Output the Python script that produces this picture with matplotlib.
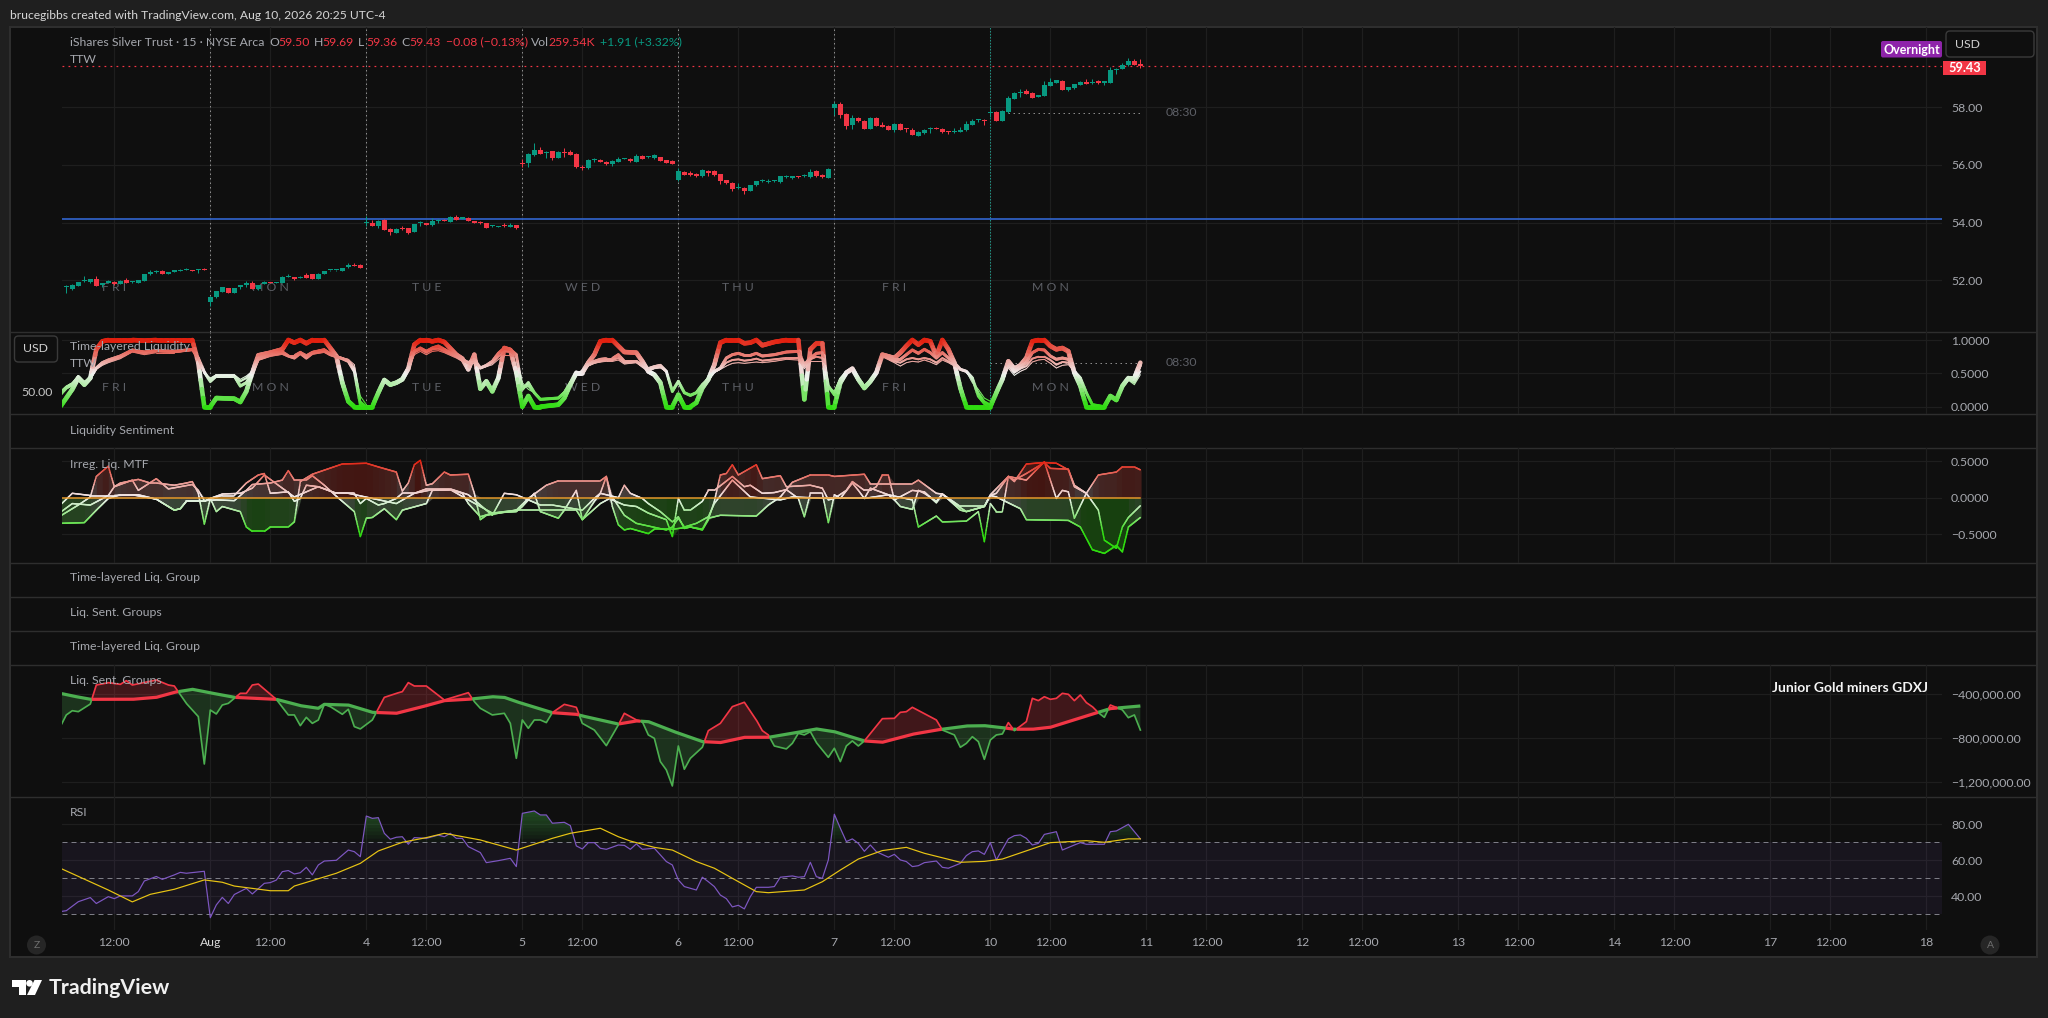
import numpy as np
import matplotlib
matplotlib.use("Agg")
import matplotlib.pyplot as plt
from matplotlib.collections import LineCollection
from matplotlib.colors import LinearSegmentedColormap, to_rgb
from matplotlib.patches import Rectangle, FancyBboxPatch, Circle, Polygon

# ---------- price data (15 min bars) ----------
opens = [51.76,51.70,51.80,51.96,51.94,52.03,51.82,51.90,51.94,51.88,52.00,51.93,51.92,51.99,52.21,52.30,52.33,52.23,52.29,52.33,52.37,52.36,52.36,52.39,
51.23,51.41,51.60,51.73,51.57,51.76,51.83,51.90,51.71,51.87,51.94,51.92,51.92,52.12,52.11,52.08,52.20,52.21,52.06,52.23,52.34,52.35,52.33,52.45,52.52,52.53,
53.98,54.00,53.89,54.09,53.78,53.65,53.80,53.80,53.67,53.97,53.98,53.92,54.06,54.10,54.03,54.19,54.14,54.17,54.05,53.99,53.98,53.87,53.86,53.89,53.86,53.91,
56.06,56.07,56.33,56.52,56.43,56.48,56.24,56.44,56.46,56.38,55.92,55.90,56.17,56.17,56.12,56.05,56.11,56.22,56.22,56.12,56.31,56.26,56.24,56.27,56.16,56.13,
55.47,55.76,55.72,55.68,55.60,55.80,55.80,55.67,55.48,55.39,55.20,55.21,55.11,55.29,55.44,55.42,55.44,55.40,55.58,55.55,55.59,55.60,55.57,55.80,55.64,55.56,
57.99,58.11,57.77,57.40,57.62,57.53,57.26,57.63,57.39,57.36,57.21,57.43,57.25,57.22,57.02,57.10,57.26,57.27,57.25,57.15,57.13,57.16,57.20,57.40,57.55,57.56,
57.79,57.83,57.54,57.84,58.30,58.48,58.56,58.51,58.37,58.40,58.75,58.85,58.91,58.60,58.67,58.78,58.89,58.83,58.88,58.86,58.85,59.28,59.33,59.45,59.60,59.50]
closes = [51.77,51.84,51.94,51.97,52.03,51.81,51.90,51.98,51.87,51.98,51.91,51.95,52.00,52.22,52.28,52.31,52.23,52.29,52.34,52.36,52.38,52.33,52.38,52.37,
51.43,51.63,51.76,51.57,51.73,51.83,51.91,51.71,51.84,51.95,51.90,51.93,52.12,52.13,52.05,52.12,52.09,52.06,52.23,52.32,52.35,52.35,52.43,52.53,52.50,52.44,
53.99,53.89,54.06,53.75,53.66,53.78,53.77,53.64,53.94,53.98,53.92,54.06,54.10,54.07,54.20,54.10,54.19,54.05,53.98,53.97,53.83,53.87,53.87,53.87,53.92,53.81,
56.04,56.38,56.52,56.39,56.46,56.24,56.45,56.43,56.35,55.94,55.91,56.17,56.18,56.10,56.05,56.14,56.21,56.23,56.13,56.30,56.20,56.30,56.33,56.15,56.07,56.05,
55.80,55.66,55.65,55.60,55.84,55.71,55.64,55.46,55.36,55.18,55.22,55.09,55.29,55.43,55.46,55.43,55.45,55.61,55.60,55.60,55.57,55.62,55.76,55.60,55.59,55.87,
58.11,57.74,57.36,57.63,57.51,57.25,57.63,57.36,57.32,57.22,57.43,57.22,57.23,57.05,57.15,57.22,57.27,57.26,57.13,57.13,57.18,57.22,57.43,57.53,57.56,57.51,
57.84,57.54,57.87,58.31,58.51,58.54,58.47,58.33,58.43,58.77,58.89,58.94,58.60,58.70,58.80,58.89,58.82,58.84,58.86,58.87,59.29,59.30,59.46,59.60,59.46,59.43]
highs = [51.85,51.87,51.95,52.15,52.05,52.15,51.92,52.00,51.96,52.00,52.07,51.96,52.02,52.23,52.34,52.36,52.35,52.30,52.36,52.38,52.41,52.37,52.40,52.42,
51.44,51.64,51.78,51.74,51.74,51.85,51.96,51.96,51.85,51.97,51.95,51.95,52.15,52.22,52.13,52.14,52.24,52.22,52.24,52.33,52.37,52.36,52.44,52.61,52.59,52.55,
54.23,54.08,54.09,54.11,53.80,53.80,53.88,53.82,53.95,54.05,53.99,54.15,54.12,54.11,54.23,54.25,54.20,54.20,54.06,54.04,53.99,53.92,53.89,53.97,53.97,53.93,
56.20,56.40,56.75,56.62,56.50,56.50,56.50,56.58,56.52,56.40,56.01,56.19,56.24,56.19,56.13,56.16,56.27,56.25,56.24,56.37,56.33,56.32,56.37,56.29,56.18,56.16,
55.90,55.78,55.80,55.72,55.85,55.82,55.81,55.68,55.49,55.40,55.38,55.22,55.30,55.44,55.50,55.53,55.47,55.62,55.66,55.62,55.61,55.68,55.86,55.81,55.69,55.91,
58.18,58.18,57.80,57.74,57.66,57.55,57.65,57.65,57.48,57.38,57.46,57.46,57.27,57.28,57.17,57.25,57.33,57.32,57.27,57.18,57.27,57.31,57.52,57.59,57.60,57.58,
58.00,57.86,57.89,58.39,58.53,58.62,58.62,58.53,58.44,58.91,59.00,58.96,58.93,58.72,58.81,58.90,58.98,58.97,58.94,58.89,59.40,59.37,59.52,59.72,59.67,59.69]
lows = [51.55,51.68,51.79,51.94,51.90,51.80,51.76,51.89,51.82,51.87,51.90,51.92,51.91,51.98,52.20,52.26,52.22,52.22,52.28,52.31,52.35,52.32,52.26,52.36,
51.11,51.40,51.59,51.56,51.56,51.70,51.76,51.70,51.68,51.86,51.89,51.91,51.91,52.10,52.01,52.07,52.08,52.05,52.05,52.22,52.33,52.33,52.32,52.44,52.49,52.43,
53.88,53.87,53.83,53.74,53.57,53.64,53.75,53.60,53.66,53.90,53.91,53.90,53.98,54.05,54.02,54.09,54.13,54.04,53.97,53.95,53.82,53.84,53.85,53.85,53.85,53.78,
55.92,55.94,56.32,56.38,56.25,56.17,56.23,56.27,56.34,55.89,55.83,55.87,56.10,56.09,56.00,55.96,56.10,56.20,56.12,56.11,56.19,56.25,56.22,56.14,56.06,56.04,
55.45,55.64,55.63,55.58,55.59,55.61,55.63,55.33,55.35,55.11,55.18,55.01,55.10,55.28,55.42,55.38,55.42,55.39,55.56,55.53,55.54,55.58,55.56,55.59,55.54,55.55,
57.74,57.63,57.26,57.26,57.50,57.24,57.25,57.35,57.30,57.20,57.16,57.20,57.13,57.03,57.00,57.08,57.10,57.24,57.12,57.08,57.11,57.14,57.18,57.38,57.50,57.39,
57.68,57.53,57.53,57.79,58.29,58.37,58.46,58.32,58.35,58.39,58.74,58.84,58.59,58.56,58.62,58.77,58.81,58.82,58.80,58.78,58.84,59.17,59.32,59.44,59.45,59.36]
last_price = 59.43
support_level = 54.14
session_level = 57.79
liq_level = 0.65

# ---------- Time-layered Liquidity ----------
liq_bars = [-1,0,1,2,3,4,5,6,7,9,11,13,15,18,20,21,22,23,24,25,28,29,30,31,32,34,36,37,38,39,40,41,43,44,45,46,47,48,49,50,51,52,53,54,55,56,57,58,59,60,61,62,63,65,66,67,68,69,70,71,72,73,74,75,76,77,78,79,82,83,84,85,86,87,88,89,90,91,92,93,95,96,97,98,99,100,101,102,103,104,105,106,107,108,109,110,111,112,113,114,115,116,118,120,122,123,124,125,126,127,128,129,130,131,132,133,134,135,136,138,139,140,141,142,143,144,145,146,147,148,149,150,151,152,153,154,155,156,157,158,159,160,161,162,163,164,165,166,167,168,169,170,171,173,174,175,176,177,178,179]
liq_a = [0,.13,.26,.43,.33,.43,.86,.98,1,1,1,.99,1,1,1,1,.66,0,0,.13,.12,.07,.23,.51,.77,.81,.86,1,.96,1,.95,1,1,.88,.76,.36,.08,0,0,0,0,.21,.40,.33,.36,.41,.57,.93,1,1,.98,1,.97,.78,.72,.56,.78,.27,.38,.23,.43,.88,.85,.51,0,.16,0,0,.03,.13,.33,.51,.51,.66,.78,.98,1,1,.91,.82,.81,.68,.53,.48,.36,0,0,.18,0,0,.06,.28,.41,.63,.96,1,1,1,.95,.96,1,.92,.97,1,1,.11,.86,.95,.95,0,0,.36,.51,.57,.41,.28,.38,.51,.78,.73,.81,.91,1,.93,1,.98,.76,1,.86,.66,.28,0,0,0,0,0,.21,.41,.68,.57,.62,.73,.98,1,1,.91,.86,.88,.83,.51,.31,0,0,0,.16,.10,.31,.43,.43,.66]
liq_b = [.18,.28,.33,.45,.36,.43,.58,.66,.70,.76,.85,.82,.84,.83,.85,.86,.73,.52,.38,.46,.46,.31,.36,.51,.71,.77,.80,.76,.73,.80,.73,.80,.83,.78,.75,.72,.68,.53,.03,0,0,.21,.40,.33,.36,.42,.57,.83,.88,.83,.88,.91,.86,.76,.71,.66,.71,.58,.62,.68,.80,.88,.86,.78,.26,.36,.21,.11,.13,.21,.36,.48,.53,.63,.68,.71,.72,.72,.78,.68,.68,.62,.57,.60,.62,.53,.23,.38,.21,.17,.21,.33,.41,.53,.58,.73,.78,.80,.77,.77,.80,.76,.78,.82,.83,.63,.73,.80,.81,.31,.18,.41,.51,.56,.42,.30,.38,.51,.77,.71,.71,.78,.85,.80,.86,.81,.73,.81,.73,.66,.56,.53,.43,.16,.05,0,.21,.41,.66,.53,.60,.66,.81,.86,.85,.76,.71,.73,.71,.53,.43,.21,.03,0,.16,.10,.31,.42,.41,.62]
liq_c = [.21,.30,.35,.46,.37,.42,.57,.64,.68,.74,.83,.80,.83,.82,.84,.85,.72,.51,.41,.47,.47,.38,.43,.53,.73,.79,.83,.76,.76,.82,.76,.82,.86,.80,.76,.73,.70,.58,.08,0,0,.21,.40,.33,.36,.43,.57,.81,.86,.81,.86,.87,.83,.75,.70,.66,.68,.58,.61,.66,.75,.83,.82,.76,.31,.31,.21,.11,.13,.22,.36,.48,.53,.62,.66,.68,.70,.70,.73,.66,.67,.61,.55,.58,.60,.53,.23,.38,.21,.17,.21,.33,.43,.52,.57,.66,.70,.71,.69,.70,.72,.69,.71,.73,.73,.60,.71,.75,.73,.31,.21,.42,.52,.56,.42,.30,.38,.51,.76,.68,.66,.71,.73,.71,.73,.71,.66,.73,.68,.63,.56,.53,.41,.21,.08,.03,.21,.41,.61,.51,.57,.61,.72,.75,.75,.70,.63,.67,.66,.53,.43,.21,.03,0,.16,.10,.31,.41,.36,.53]
liq_d = [.23,.31,.36,.46,.38,.41,.56,.62,.66,.72,.82,.78,.81,.81,.83,.84,.72,.50,.43,.48,.48,.41,.46,.53,.75,.81,.84,.78,.78,.83,.78,.83,.87,.81,.76,.73,.71,.63,.16,.03,.03,.21,.40,.33,.37,.44,.57,.78,.83,.78,.83,.84,.81,.73,.68,.66,.66,.57,.60,.63,.71,.78,.78,.73,.36,.26,.21,.11,.13,.23,.36,.48,.52,.61,.65,.67,.68,.68,.70,.64,.66,.59,.53,.57,.58,.53,.23,.37,.21,.17,.21,.33,.45,.51,.56,.61,.65,.66,.65,.66,.67,.66,.68,.71,.70,.57,.68,.68,.68,.31,.23,.43,.53,.56,.42,.30,.38,.51,.75,.66,.61,.66,.68,.67,.70,.67,.63,.70,.66,.61,.56,.53,.36,.26,.13,.08,.21,.41,.58,.47,.53,.57,.67,.70,.71,.65,.58,.62,.63,.53,.43,.21,.03,0,.16,.10,.31,.40,.33,.48]

# ---------- Irreg. Liq. MTF ----------
mtf1_bars = [-1,2,4,5,7,8,9,12,14,15,18,20,21,22,23,24,25,26,29,30,31,33,34,37,38,39,41,46,50,52,55,56,57,58,59,60,61,63,64,67,68,69,70,75,77,80,82,89,90,91,92,93,94,97,98,101,104,106,107,109,115,117,119,121,124,127,128,133,134,141,142,145,146,149,150,153,154,157,158,160,163,164,167,168,170,172,175,176,178,179]
mtf1_vals = [-.25,-.10,.01,.29,.43,.15,.20,.25,.20,.20,.17,.20,.22,.06,-.36,-.01,-.19,-.12,-.19,-.40,-.46,-.46,-.40,-.40,-.33,.22,.32,.46,.47,.42,.35,.09,.20,.45,.51,.17,.19,.35,.31,.32,.06,-.30,-.24,-.17,-.01,.17,.23,.23,.29,-.12,-.37,-.44,-.42,-.49,-.43,-.43,-.40,-.43,-.28,-.24,-.25,-.10,.01,.21,.31,.31,.29,.32,.19,.19,.24,.06,.05,-.17,-.19,-.12,.04,.29,.22,.46,.48,.40,.39,.17,.06,.31,.35,.42,.42,.38]
mtf2_bars = [-1,3,5,7,9,11,15,18,19,20,23,24,26,28,30,32,33,34,37,38,39,40,42,45,48,49,50,52,53,55,56,58,60,64,67,69,71,73,75,77,79,81,86,88,89,90,91,93,95,97,100,101,102,103,104,106,107,108,111,113,114,116,118,120,122,123,124,126,127,128,129,131,132,133,134,135,137,138,141,143,145,146,149,153,154,155,159,160,167,169,171,173,175,176,177,179]
mtf2_vals = [-.35,-.34,-.17,-.01,.04,.04,-.02,-.17,-.15,-.05,-.05,-.01,.03,.03,.20,.31,.33,.06,.08,-.05,-.01,.17,.15,.06,.06,-.08,-.01,-.10,-.08,-.01,.06,.06,.12,.12,.04,-.10,-.24,.06,.04,-.03,-.10,-.10,-.17,-.01,.06,.29,-.03,-.10,-.12,-.21,-.30,-.53,-.01,-.17,-.17,-.05,.10,.10,.29,.15,.17,.06,.07,.11,-.01,-.26,.06,.06,-.34,.04,-.01,.20,.10,-.01,.13,.10,.04,-.03,.10,.08,-.07,.05,-.12,-.12,.03,.01,-.15,-.30,-.31,-.40,-.71,-.76,-.65,-.74,-.40,-.27]
mtf3_bars = [-1,1,4,7,8,11,12,15,17,21,22,23,25,28,30,31,34,36,37,38,40,41,43,45,48,49,50,51,53,55,56,60,61,64,66,67,69,71,75,76,78,79,82,83,85,86,88,89,92,93,94,96,97,99,101,102,103,104,106,107,108,109,110,111,112,115,116,119,120,124,126,127,128,130,131,133,134,135,136,137,138,139,141,142,143,145,146,148,150,153,154,155,157,160,163,165,166,167,168,170,172,173,175,176,177,179]
mtf3_vals = [-.20,-.08,-.10,.03,.15,.24,.10,.26,.12,.18,.10,-.04,-.03,-.04,.10,.18,.20,.24,.37,.24,.24,.30,.17,.02,-.19,-.53,-.28,-.27,-.15,-.30,-.17,-.08,.10,.11,.06,-.08,-.26,-.21,-.19,-.12,.06,-.19,-.28,-.17,.10,-.30,-.05,.06,.0,.17,.06,-.01,-.08,-.19,-.33,-.26,-.42,-.40,-.44,-.30,-.05,.31,.33,.45,.31,.45,.26,.30,.15,.17,.13,-.03,-.01,.10,.22,.10,.10,.15,.31,.31,-.03,-.12,-.16,.10,.06,-.05,.05,-.08,-.19,-.12,.03,.06,.29,.24,.49,-.01,.10,.08,-.28,.06,-.17,-.58,-.69,-.40,-.27,-.11]
mtf4_bars = [-1,1,4,8,12,15,18,19,20,23,24,26,29,31,33,38,42,45,47,51,55,58,61,64,67,71,75,81,85,86,89,91,93,95,100,101,102,103,105,107,108,111,114,119,121,127,133,137,141,142,145,146,150,152,153,154,155,156,157,158,160,163,165,167,168,170]
mtf4_vals = [-.10,.06,.03,.03,.04,-.02,-.17,-.15,-.05,-.05,-.01,.05,.06,.13,.31,.01,.15,.06,.06,-.01,-.08,.06,.11,.11,-.03,-.21,-.17,-.17,-.17,-.30,-.08,.01,-.24,-.35,-.44,-.40,-.28,-.40,-.35,-.26,-.08,.24,.01,-.03,.01,-.01,-.01,.04,-.03,-.40,-.25,-.33,-.32,-.19,-.60,-.08,-.19,-.19,.29,.24,.33,.48,.47,.38,.15,.06]

# ---------- Liq. Sent. Groups (thousands) ----------
slow_bars = [-1,1,4,11,15,18,21,23,28,35,39,42,43,47,51,55,59,63,67,71,73,75,81,85,86,92,95,97,101,106,109,113,117,121,125,128,133,136,141,145,150,153,156,158,161,164,170,174,179]
slow_k = [-391,-415,-446,-446,-428,-382,-354,-376,-428,-446,-504,-528,-492,-498,-565,-574,-519,-458,-446,-422,-428,-467,-568,-583,-598,-672,-644,-650,-736,-833,-842,-794,-794,-757,-717,-742,-827,-839,-766,-727,-690,-687,-705,-720,-720,-702,-598,-531,-507]
fast_bars = [-1,0,1,2,4,5,7,9,10,11,15,17,18,20,22,23,24,25,26,27,29,30,31,32,35,37,38,39,40,41,42,43,44,46,47,48,49,51,53,55,56,57,58,60,63,67,68,69,71,73,74,75,76,77,78,79,80,81,83,85,86,88,90,92,93,95,96,97,98,99,100,101,102,103,104,106,107,109,111,113,115,116,117,118,120,121,122,123,124,125,127,128,129,130,131,132,133,136,138,139,140,141,145,146,148,149,150,151,152,153,154,155,156,157,158,160,161,162,163,164,165,166,167,168,169,170,171,172,173,174,176,177,178,179]
fast_k = [-696,-589,-550,-559,-489,-315,-293,-309,-275,-315,-269,-315,-324,-483,-604,-1038,-544,-580,-498,-483,-391,-391,-315,-306,-446,-589,-589,-687,-611,-666,-635,-492,-513,-583,-537,-696,-717,-635,-428,-391,-376,-293,-324,-324,-452,-385,-467,-528,-589,-574,-666,-986,-635,-711,-635,-635,-659,-568,-492,-519,-666,-727,-870,-681,-574,-635,-650,-772,-803,-1016,-1092,-1239,-873,-1086,-986,-885,-733,-666,-513,-473,-635,-733,-772,-873,-900,-849,-757,-772,-742,-842,-977,-894,-1016,-873,-827,-873,-827,-623,-620,-565,-559,-519,-635,-727,-772,-885,-849,-788,-833,-995,-818,-772,-763,-659,-733,-650,-437,-458,-422,-446,-437,-391,-400,-458,-406,-476,-513,-568,-611,-498,-543,-614,-589,-727]

# ---------- RSI ----------
rsi_bars = [-1,0,2,4,5,7,8,9,11,12,13,15,16,18,19,20,23,24,25,26,27,28,30,31,33,34,35,36,37,38,39,40,41,42,43,45,47,48,49,50,51,52,53,54,55,56,57,58,60,62,63,64,65,66,67,69,70,72,74,75,76,78,79,80,81,83,84,85,86,87,88,89,90,92,93,94,95,96,98,100,101,102,103,105,106,107,108,109,110,111,112,113,114,115,117,118,119,121,122,123,124,125,126,127,128,129,130,131,132,133,134,135,137,138,139,140,141,142,143,145,146,147,149,150,151,152,153,154,155,157,158,159,160,161,162,163,165,166,168,169,170,173,174,175,177,179]
rsi_vals = [31.5,32,37,39.3,36,39.8,38.7,40.2,40.2,42.6,48.5,51,49.4,51.9,53.3,52.8,53.9,28.1,35.2,39.4,36,41,44.4,41.3,47.2,47.6,49,53.7,54.3,52.4,53.1,56.1,51.9,57.4,59.6,60,65.7,64.8,62,84.6,83.3,83.7,75,71.7,72.8,73.1,68.9,72.6,72.2,74,73.1,75,72.2,72.2,67.6,64.3,58.7,59.8,61.1,56.5,86.1,87.4,85.2,85.2,80.6,81.1,79.3,68,66.3,69.8,69.8,66.7,66.1,68.5,68.3,66.1,69.1,66.1,66.7,59.3,57.4,49.1,45.4,43.5,50.6,48.1,45.4,40.7,38.7,34.1,35,33,39.8,45,45,45.4,50.6,51.3,50.6,50.9,58.9,50.9,50,60.2,85.6,77.8,70.4,71.9,69.4,65,68.5,64.8,61.7,63.3,60.2,59.3,56.5,57,58.7,59.6,56.1,55.6,58.3,62.6,64.8,65.2,63.3,69.8,60.2,71.9,73.7,74.1,72.2,68.5,69.4,74.4,75.9,65.7,68.5,69.8,68.9,68.9,75.9,76.3,80,71.9]
ma_bars = [-1,7,11,14,18,23,26,28,34,37,38,45,49,52,56,60,63,69,75,81,84,89,92,94,98,101,105,108,111,115,117,123,126,129,132,136,140,143,149,153,156,164,170,173,177,179]
ma_vals = [55.6,43.5,36.9,41.1,43.9,49.1,47.8,45.7,43.1,43.1,45.7,52.8,58.3,65.2,70,72.6,75,71.3,65.7,72.2,75,77.8,73.1,70.7,67.2,65.7,59.3,55.6,50,42.6,42,43.5,48.1,54.6,60.7,65.4,67.2,63.9,58.9,59.4,60.7,69.8,70.9,70,71.9,71.9]

# ---------- labels ----------
session_bars = [24, 50, 76, 102, 128]
current_session_bar = 154
grid_bars = [8,24,34,50,60,76,86,102,112,128,138,154,164,180,190,206,216,232,242,258,268,284,294,310]
grid_labels = ['12:00','Aug','12:00','4','12:00','5','12:00','6','12:00','7','12:00','10','12:00','11','12:00','12','12:00','13','12:00','14','12:00','17','12:00','18']
weekday_bars = [8,34,60,86,112,138,164]
weekday_names = ['F R I','M O N','T U E','W E D','T H U','F R I','M O N']
price_ticks = [52, 54, 56, 58]
liq_ticks = [0.0, 0.5, 1.0]
mtf_ticks = [-0.5, 0.0, 0.5]
sent_ticks = [-1200000, -800000, -400000]
rsi_ticks = [40, 60, 80]
rsi_levels = [30, 50, 70]

# ---------- style ----------
W, H = 2048, 1018
OUTER = '#1f1f1f'; INNER = '#0f0f0f'; SEP = '#2e2e2e'; GRID = '#1e1e1e'
TXT = '#b2b5be'; DIM = '#a6a8ae'; UP = '#089981'; DOWN = '#f23645'
FONT = 'Lato'
plt.rcParams['font.family'] = FONT
fig = plt.figure(figsize=(W/100, H/100), dpi=100, facecolor=OUTER)
PX = 0.72  # points per pixel

def make_axes(y0, y1, x0=62, x1=1942, z=2):
    a = fig.add_axes([x0/W, 1-y1/H, (x1-x0)/W, (y1-y0)/H], zorder=z)
    a.patch.set_visible(False)
    for s in a.spines.values():
        s.set_visible(False)
    a.set_xlim(-0.717, 312.6)
    a.yaxis.tick_right()
    a.tick_params(axis='both', length=0, labelbottom=False, labelleft=False, labelright=True)
    a.tick_params(axis='y', pad=6.5, labelsize=8.8, labelcolor=DIM)
    a.set_xticks(grid_bars)
    a.set_axisbelow(True)
    a.grid(True, color=GRID, lw=1.2*PX)
    return a

bg = fig.add_axes([0, 0, 1, 1], zorder=0)
bg.set_xlim(0, W); bg.set_ylim(H, 0); bg.axis('off')
ov = fig.add_axes([0, 0, 1, 1], zorder=9)
ov.set_xlim(0, W); ov.set_ylim(H, 0); ov.axis('off'); ov.patch.set_visible(False)

bg.add_patch(Rectangle((10, 27), 2027, 930, fc=INNER, ec=SEP, lw=2*PX))
for y in [331.5, 414.3, 448.3, 563.3, 597, 631, 665, 797.3]:
    bg.plot([10, 2037], [y, y], color=SEP, lw=1.4*PX, solid_capstyle='butt')

def T(x, y, s, color=DIM, size=8.8, ha='left', weight='normal', axes=None, **k):
    return (axes or ov).text(x, y, s, color=color, fontsize=size, ha=ha, va='center', weight=weight, **k)

def dense(bars, vals, step=0.1):
    x = np.arange(bars[0], bars[-1]+1e-6, step)
    return x, np.interp(x, bars, vals)

cmap = LinearSegmentedColormap.from_list('gwr', ['#2fdc10', '#f2f2f2', '#e2200f'])

def grad_line(ax, x, y, lo, hi, width, z=3):
    pts = np.column_stack([x, y]).reshape(-1, 1, 2)
    segs = np.concatenate([pts[:-1], pts[1:]], axis=1)
    mid = (y[:-1] + y[1:]) / 2
    lc = LineCollection(segs, colors=cmap(np.clip((mid-lo)/(hi-lo), 0, 1)), linewidths=width*PX,
                        capstyle='round', zorder=z)
    ax.add_collection(lc)

def tint(v):
    c = np.array(cmap(np.clip(v+0.5, 0, 1))[:3])
    return tuple(0.24*c + 0.76*np.array(to_rgb(INNER)))

# ---- main pane ----
ax = make_axes(27, 331.5)
ax.set_ylim(58-(331.5-107.3)/28.83, 58+(107.3-27)/28.83)
ax.set_yticks(price_ticks); ax.set_yticklabels([f'{v:.2f}' for v in price_ticks])
bars = np.arange(len(opens))
o, h, l, c = map(np.array, (opens, highs, lows, closes))
cols = np.where(c >= o, UP, DOWN)
ax.vlines(bars, l, h, colors=cols, lw=1*PX, zorder=4)
ax.bar(bars, np.maximum(np.abs(c-o), 0.035), bottom=np.minimum(o, c), width=0.86, color=cols, lw=0, zorder=5)
ax.axhline(last_price, color=DOWN, lw=1.2*PX, ls=(0, (1.5, 3.5)), zorder=3)
ax.axhline(support_level, color='#2f5fc0', lw=1.8*PX, zorder=3)
ax.plot([157, 179.5], [session_level]*2, color='#8a8a8a', lw=1*PX, ls=(0, (1.5, 3.5)), zorder=3)

# ---- liquidity pane ----
ax2 = make_axes(331.5, 414.3)
ax2.set_ylim((406.7-414.3)/66.7, (406.7-331.5)/66.7)
ax2.set_yticks(liq_ticks); ax2.set_yticklabels([f'{v:.4f}' for v in liq_ticks])
for vals, w in zip((liq_a, liq_b, liq_c, liq_d), (4.6, 3.0, 1.9, 1.0)):
    xd, yd = dense(liq_bars, vals, 0.2)
    grad_line(ax2, xd, yd, 0, 1, w)
ax2.plot([154, 179.5], [liq_level]*2, color='#8a8a8a', lw=1*PX, ls=(0, (1.5, 3.5)), zorder=2)

for a_ in (ax, ax2):
    for b in session_bars:
        a_.axvline(b, color='#8c8c8c', lw=1*PX, ls=(0, (1.5, 3)), zorder=2)
    a_.axvline(current_session_bar, color='#1f8f80', lw=1*PX, ls=(0, (1.5, 1.5)), zorder=2)
for b, n in zip(weekday_bars, weekday_names):
    ax.text(b, 51.75, n, color='#5d5f66', fontsize=8.8, ha='center', va='center', zorder=1)
    ax2.text(b, (406.7-387.5)/66.7, n, color='#5d5f66', fontsize=8.8, ha='center', va='center', zorder=1)

# ---- MTF pane ----
ax4 = make_axes(448.3, 563.3)
ax4.set_ylim((497.7-563.3)/73.3, (497.7-448.3)/73.3)
ax4.set_yticks(mtf_ticks); ax4.set_yticklabels([f'{v:.4f}'.replace('-', '−') for v in mtf_ticks])
fx = np.arange(-1, 180)
m1 = np.interp(fx, mtf1_bars, mtf1_vals); m2 = np.interp(fx, mtf2_bars, mtf2_vals)
m3 = np.interp(fx, mtf3_bars, mtf3_vals)
top = np.maximum.reduce([m1, m3, np.zeros_like(m1)])
bot = np.minimum.reduce([m1, m3, m2, np.zeros_like(m1)])
for i in range(len(fx)-1):
    xs = fx[i:i+2]
    tv = (top[i]+top[i+1])/2; bv = (bot[i]+bot[i+1])/2
    xs2 = [xs[0], xs[1]+0.12]
    if tv > 0:
        ax4.fill_between(xs2, 0, top[i:i+2], color=tint(tv), lw=0, antialiased=False, zorder=2)
    if bv < 0:
        ax4.fill_between(xs2, bot[i:i+2], 0, color=tint(bv), lw=0, antialiased=False, zorder=2)
for bs, vs in ((mtf4_bars, mtf4_vals), (mtf3_bars, mtf3_vals), (mtf2_bars, mtf2_vals), (mtf1_bars, mtf1_vals)):
    xd, yd = dense(bs, vs, 0.1)
    grad_line(ax4, xd, yd, -0.5, 0.5, 1.5)
ax4.plot([-1, 179], [0, 0], color='#e89a2a', lw=1.5*PX, zorder=5)

# ---- sentiment pane ----
ax8 = make_axes(665, 797.3)
ax8.set_ylim(-400000-(797.3-694.3)/43.7*400000, -400000+(694.3-665)/43.7*400000)
ax8.set_yticks(sent_ticks); ax8.set_yticklabels([f'{v:,.2f}'.replace('-', '−') for v in sent_ticks])
xs = np.arange(-1, 179.001, 0.05)
slow = np.interp(xs, slow_bars, np.array(slow_k)*1000.0)
fast = np.interp(xs, fast_bars, np.array(fast_k)*1000.0)
above = fast > slow
ax8.fill_between(xs, fast, slow, where=above, color=DOWN, alpha=0.22, lw=0, interpolate=True, zorder=2)
ax8.fill_between(xs, fast, slow, where=~above, color='#4caf50', alpha=0.22, lw=0, interpolate=True, zorder=2)
for cond, col in ((above, DOWN), (~above, '#4caf50')):
    ax8.plot(xs, np.where(cond, fast, np.nan), color=col, lw=1.7*PX, zorder=3)
    ax8.plot(xs, np.where(cond, slow, np.nan), color=col, lw=3.2*PX, zorder=4, solid_capstyle='butt')

# ---- RSI pane ----
ax9 = make_axes(797.3, 930)
ax9.set_ylim(80-(930-824.3)/1.8, 80+(824.3-797.3)/1.8)
ax9.set_yticks(rsi_ticks); ax9.set_yticklabels([f'{v:.2f}' for v in rsi_ticks])
ax9.axhspan(rsi_levels[0], rsi_levels[2], color='#7e57c2', alpha=0.085, lw=0, zorder=1)
for lev in rsi_levels:
    ax9.axhline(lev, color='#7d7d86', lw=1*PX, ls=(0, (5, 4)), zorder=2)
xr = np.arange(-1, 179.001, 0.05)
yr = np.interp(xr, rsi_bars, rsi_vals)
for lev in np.arange(70, 88, 2.0):
    ax9.fill_between(xr, lev, yr, where=yr > lev, color='#3fa045', alpha=0.06, lw=0, interpolate=True, zorder=2)
ax9.plot(rsi_bars, rsi_vals, color='#7e57c2', lw=1.2*PX, zorder=4)
ax9.plot(ma_bars, ma_vals, color='#e8c414', lw=1.2*PX, zorder=5)
ax9.tick_params(axis='x', labelbottom=True, pad=5, labelsize=8.8, labelcolor=DIM)
ax9.set_xticklabels(grid_labels)
for tl, lab in zip(ax9.get_xticklabels(), grid_labels):
    if lab == 'Aug':
        tl.set_color('#d8d8d8')

# ---- text and chrome ----
T(10, 15, 'brucegibbs created with TradingView.com, Aug 10, 2026 20:25 UTC-4', color='#d6d6d6', size=8.75)
T(70, 42, 'iShares Silver Trust · 15 · NYSE Arca')
for x, s, col in [(269, 'O', DIM), (278, '59.50', DOWN), (314, 'H', DIM), (322, '59.69', DOWN), (358, 'L', DIM),
                  (366, '59.36', DOWN), (401, 'C', DIM), (409, '59.43', DOWN), (446, '−0.08 (−0.13%)', DOWN),
                  (531, 'Vol', DIM), (548, '259.54K', DOWN), (600, '+1.91 (+3.32%)', UP)]:
    T(x, 42, s, color=col)
for y, s in [(59, 'TTW'), (346.7, 'Time-layered Liquidity'), (363.7, 'TTW'), (430, 'Liquidity Sentiment'),
             (464, 'Irreg. Liq. MTF'), (577.5, 'Time-layered Liq. Group'), (612, 'Liq. Sent. Groups'),
             (646, 'Time-layered Liq. Group'), (680.7, 'Liq. Sent. Groups'), (812.7, 'RSI')]:
    T(70, y, s)
T(1771.5, 688, 'Junior Gold miners GDXJ', color='#f5f5f5', size=10, weight='bold')
T(1166, 112, '08:30', color='#5d5f66', size=8.8)
T(1166, 363, '08:30', color='#5d5f66', size=8.8)

ov.add_patch(FancyBboxPatch((1881, 41), 61, 16.5, boxstyle='round,pad=0,rounding_size=2', fc='#8e24aa', ec='none'))
T(1911.5, 49.5, 'Overnight', color='white', size=9, ha='center', weight='bold')
ov.add_patch(FancyBboxPatch((1946, 31), 88, 26, boxstyle='round,pad=0,rounding_size=4', fc=INNER, ec='#3a3a3a', lw=1.4*PX))
T(1955, 44, 'USD', color='#d0d0d0')
ov.add_patch(Rectangle((1943, 61), 43, 14, fc=DOWN, ec='none'))
T(1964.5, 68, f'{last_price:.2f}', color='white', size=9.2, ha='center', weight='bold')
ov.add_patch(FancyBboxPatch((14.5, 336), 43, 26, boxstyle='round,pad=0,rounding_size=4', fc=INNER, ec='#3a3a3a', lw=1.4*PX))
T(36, 349, 'USD', color='#d0d0d0', ha='center')
T(37, 392, '50.00', color='#c6c6c6', ha='center')

for x0, s in ((36.5, 'Z'), (1990, 'A')):
    ov.add_patch(Circle((x0, 945), 9.5, fc='#262626', ec='none'))
    T(x0, 945, s, color='#6f6f6f', size=7.5, ha='center')

# TradingView logo
ov.add_patch(Polygon([(12, 980), (25.5, 980), (25.5, 995), (18.5, 995), (18.5, 986.5), (12, 986.5)], fc='white', ec='none'))
ov.add_patch(Circle((29.5, 983.3), 3.3, fc='white', ec='none'))
ov.add_patch(Polygon([(34.5, 980), (42, 980), (35, 995), (27, 995)], fc='white', ec='none'))
T(48.5, 987.5, 'TradingView', color='#f0f0f0', size=15.4, weight='bold')

fig.savefig('out.png', dpi=100, facecolor=OUTER)
